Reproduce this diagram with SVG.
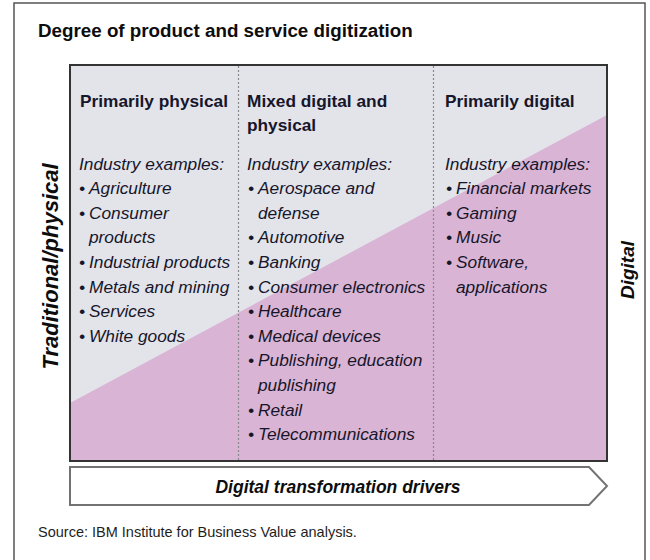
<svg xmlns="http://www.w3.org/2000/svg" width="650" height="560" viewBox="0 0 650 560">
<style>
text { font-family: "Liberation Sans", Arial, sans-serif; fill: #16162a; }
.title { font-size: 18.8px; font-weight: bold; fill: #0d0d0d; }
.hdr { font-size: 17.3px; font-weight: bold; }
.it { font-size: 17.3px; font-style: italic; }
.axis { font-size: 22px; font-weight: bold; font-style: italic; fill: #0d0d0d; }
.axis2 { font-size: 19px; font-weight: bold; font-style: italic; fill: #0d0d0d; }
.drv { font-size: 17.5px; font-weight: bold; font-style: italic; fill: #0d0d0d; }
.src { font-size: 14.5px; fill: #1e1e1e; }
.div { stroke: #8a8a8a; stroke-width: 1.2; stroke-dasharray: 2 2; }
</style>
<rect x="0" y="0" width="650" height="560" fill="#ffffff"/>
<rect id="frame" x="14" y="3" width="631" height="600" fill="none" stroke="#555" stroke-width="1.5"/>
<text class="title" x="38" y="37">Degree of product and service digitization</text>

<g id="matrix">
  <rect x="70" y="65" width="537" height="396" fill="#e3e3ea"/>
  <polygon points="70,403 607,115 607,461 70,461" fill="#d9b4d4"/>
  <line class="div" x1="238.5" y1="66" x2="238.5" y2="460"/>
  <line class="div" x1="433.5" y1="66" x2="433.5" y2="460"/>
  <rect x="70" y="65" width="537" height="396" fill="none" stroke="#333" stroke-width="2"/>
</g>

<g id="col-physical">
  <text class="hdr" x="80" y="107">Primarily physical</text>
  <text class="it" x="79" y="169.5">Industry examples:</text>
  <text class="it" y="194.1"><tspan x="79">•</tspan><tspan x="89">Agriculture</tspan></text>
  <text class="it" y="218.7"><tspan x="79">•</tspan><tspan x="89">Consumer</tspan></text>
  <text class="it" x="89" y="243.3">products</text>
  <text class="it" y="267.9"><tspan x="79">•</tspan><tspan x="89">Industrial products</tspan></text>
  <text class="it" y="292.5"><tspan x="79">•</tspan><tspan x="89">Metals and mining</tspan></text>
  <text class="it" y="317.1"><tspan x="79">•</tspan><tspan x="89">Services</tspan></text>
  <text class="it" y="341.7"><tspan x="79">•</tspan><tspan x="89">White goods</tspan></text>
</g>

<g id="col-mixed">
  <text class="hdr" x="247" y="107">Mixed digital and</text>
  <text class="hdr" x="247" y="131">physical</text>
  <text class="it" x="247" y="169.5">Industry examples:</text>
  <text class="it" y="194.1"><tspan x="248">•</tspan><tspan x="258">Aerospace and</tspan></text>
  <text class="it" x="258" y="218.7">defense</text>
  <text class="it" y="243.3"><tspan x="248">•</tspan><tspan x="258">Automotive</tspan></text>
  <text class="it" y="267.9"><tspan x="248">•</tspan><tspan x="258">Banking</tspan></text>
  <text class="it" y="292.5"><tspan x="248">•</tspan><tspan x="258">Consumer electronics</tspan></text>
  <text class="it" y="317.1"><tspan x="248">•</tspan><tspan x="258">Healthcare</tspan></text>
  <text class="it" y="341.7"><tspan x="248">•</tspan><tspan x="258">Medical devices</tspan></text>
  <text class="it" y="366.3"><tspan x="248">•</tspan><tspan x="258">Publishing, education</tspan></text>
  <text class="it" x="258" y="390.9">publishing</text>
  <text class="it" y="415.5"><tspan x="248">•</tspan><tspan x="258">Retail</tspan></text>
  <text class="it" y="440.1"><tspan x="248">•</tspan><tspan x="258">Telecommunications</tspan></text>
</g>

<g id="col-digital">
  <text class="hdr" x="445" y="107">Primarily digital</text>
  <text class="it" x="445" y="169.5">Industry examples:</text>
  <text class="it" y="194.1"><tspan x="446">•</tspan><tspan x="456">Financial markets</tspan></text>
  <text class="it" y="218.7"><tspan x="446">•</tspan><tspan x="456">Gaming</tspan></text>
  <text class="it" y="243.3"><tspan x="446">•</tspan><tspan x="456">Music</tspan></text>
  <text class="it" y="267.9"><tspan x="446">•</tspan><tspan x="456">Software,</tspan></text>
  <text class="it" x="456" y="292.5">applications</text>
</g>

<g id="axis-left">
  <text class="axis" text-anchor="middle" transform="translate(58,266.5) rotate(-90)">Traditional/physical</text>
</g>
<g id="axis-right">
  <text class="axis2" text-anchor="middle" transform="translate(634,270) rotate(-90)">Digital</text>
</g>

<g id="drivers-arrow">
  <polygon points="70,467 589,467 607,486 589,505 70,505" fill="#ffffff" stroke="#737373" stroke-width="2" stroke-linejoin="miter"/>
  <text class="drv" x="338" y="493" text-anchor="middle">Digital transformation drivers</text>
</g>

<text class="src" x="38" y="537">Source: IBM Institute for Business Value analysis.</text>
</svg>
